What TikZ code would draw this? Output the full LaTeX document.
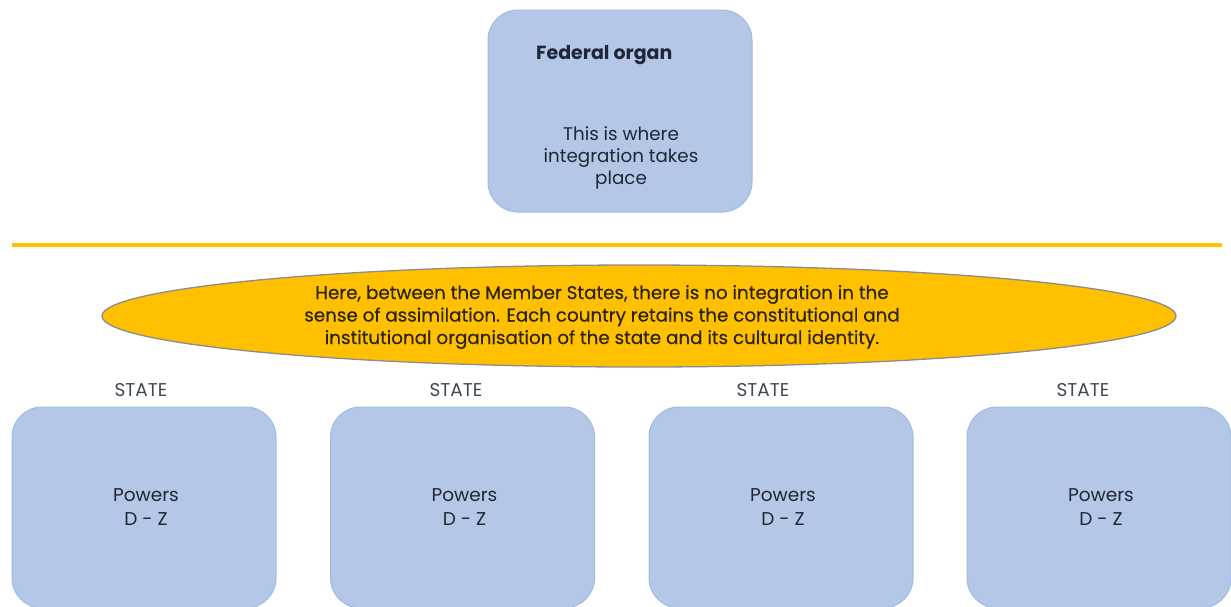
\documentclass[tikz,border=0pt]{standalone}
\usepackage{fontspec}
\setmainfont{Poppins}
\newfontfamily\medfont{Poppins}[FakeBold=0.35]
\usetikzlibrary{shapes.geometric}
\definecolor{boxfill}{HTML}{B4C7E7}
\definecolor{boxline}{HTML}{9DBBE3}
\definecolor{gold}{HTML}{FFC000}
\definecolor{rimgray}{HTML}{8C8C8C}
\definecolor{inkblue}{HTML}{1E2637}
\definecolor{inkdark}{HTML}{2B2410}
\tikzset{
  panel/.style={draw=boxline, line width=1pt, fill=boxfill, rounded corners=30pt,
    minimum width=264pt, minimum height=201pt, inner sep=0pt},
  bodytext/.style={text=inkblue, align=center, inner sep=0pt,
    font=\fontsize{18.3}{21.7}\selectfont},
  statelabel/.style={text=inkblue!85, inner sep=0pt, font=\fontsize{18.5}{20}\selectfont},
  divider/.style={draw=gold, line width=4pt},
  bubble/.style={ellipse, draw=rimgray, line width=1.3pt, fill=gold,
    minimum width=1074pt, minimum height=102pt, inner sep=0pt},
  bubbletext/.style={text=inkdark, align=center, inner sep=0pt,
    font=\medfont\fontsize{18.3}{22.5}\selectfont}
}
\begin{document}
\begin{tikzpicture}[x=1pt, y=-1pt]
\useasboundingbox (0,0) rectangle (1231,606);

% federal level
\node[panel, minimum height=202pt] (fed) at (620,111) {};
\node[bodytext, anchor=west, font=\bfseries\fontsize{19}{21}\selectfont] (fedtitle) at (536,55) {Federal organ};
\node[bodytext] (fedbody) at (621,158) {This is where\\integration takes\\place};

% dividing line
\coordinate (lineL) at (12,245);
\coordinate (lineR) at (1222,245);
\draw[divider] (lineL) -- (lineR);

% member-state relationship
\node[bubble] (rel) at (639,316) {};
\node[bubbletext] (reltext) at (602,317) {Here, between the Member States, there is no integration in the\\
sense of assimilation. Each country retains the constitutional and\\
institutional organisation of the state and its cultural identity.};

% member states
\foreach \i/\cx/\lx in {1/144/141, 2/462.5/456, 3/781/763, 4/1099/1083} {
  \node[panel] (st\i) at (\cx,507.5) {};
  \node[statelabel] (lab\i) at (\lx,390) {STATE};
  \node[bodytext, font=\fontsize{18.5}{24.5}\selectfont] (pw\i) at (\cx+2,507) {Powers\\D - Z};
}
\end{tikzpicture}
\end{document}
